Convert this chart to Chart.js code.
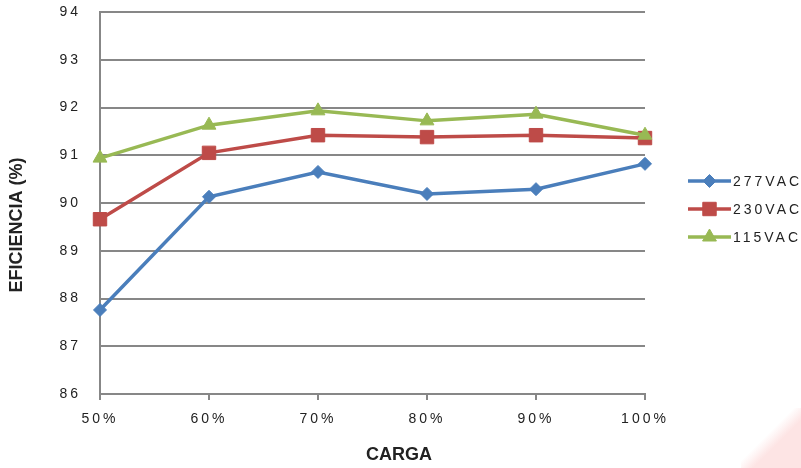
<!DOCTYPE html>
<html>
<head>
<meta charset="utf-8">
<script src="https://cdn.jsdelivr.net/npm/chart.js@4.4.1/dist/chart.umd.min.js"></script>
<style>
  html, body { margin: 0; padding: 0; background: #fff; }
  #wrap { position: relative; width: 801px; height: 468px; overflow: hidden; }
  #corner {
    position: absolute; left: 741px; top: 408px; width: 60px; height: 60px;
    background: linear-gradient(135deg, rgba(253,226,226,0) 44%, rgba(253,228,228,1) 60%);
  }
  #chart { position: absolute; left: 0; top: 0; }
</style>
</head>
<body>
<div id="wrap">
  <div id="corner"></div>
  <canvas id="chart" width="801" height="468"></canvas>
</div>
<script>
// Load levels on the x axis
const categories = ['50%', '60%', '70%', '80%', '90%', '100%'];

// Efficiency (%) per input voltage
const seriesNames = ['277VAC', '230VAC', '115VAC'];
const eff277 = [87.76, 90.13, 90.65, 90.19, 90.29, 90.82];
const eff230 = [89.66, 91.05, 91.42, 91.38, 91.42, 91.36];
const eff115 = [90.94, 91.63, 91.93, 91.72, 91.86, 91.42];

// Value axis ticks
const yTicks = [86, 87, 88, 89, 90, 91, 92, 93, 94];

const seriesColors = ['#4A7EBB', '#BE4B48', '#98B954'];
const seriesMarkers = ['rectRot', 'rect', 'triangle'];
const markerRadius = [6.5, 9.5, 8];
const seriesValues = [eff277, eff230, eff115];

const FONT = "'Liberation Sans', Arial, sans-serif";
const GRID = '#878787';
const TEXT = '#222222';

const datasets = seriesNames.map((name, i) => ({
  label: name,
  data: seriesValues[i],
  borderColor: seriesColors[i],
  backgroundColor: seriesColors[i],
  borderWidth: 3.5,
  tension: 0,
  pointStyle: seriesMarkers[i],
  pointRadius: markerRadius[i],
  pointHoverRadius: markerRadius[i],
  pointBorderWidth: 1,
  pointBorderColor: seriesColors[i],
  pointBackgroundColor: seriesColors[i],
  order: seriesNames.length - 1 - i
}));

// Wide letter spacing for tick and legend text
const spacingPlugin = {
  id: 'spacing',
  beforeLayout(chart) { chart.ctx.letterSpacing = '3px'; },
  beforeDraw(chart) { chart.ctx.letterSpacing = '3px'; }
};

// Axis titles and the legend at the right
const decorPlugin = {
  id: 'decor',
  afterDraw(chart) {
    const ctx = chart.ctx;
    ctx.save();
    ctx.letterSpacing = '0px';
    ctx.fillStyle = TEXT;
    ctx.font = "bold 18px " + FONT;
    ctx.textAlign = 'center';
    ctx.textBaseline = 'middle';
    ctx.fillText('CARGA', 399, 455);
    ctx.translate(17, 225);
    ctx.rotate(-Math.PI / 2);
    ctx.fillText('EFICIENCIA (%)', 0, 0);
    ctx.restore();

    const legendY = [181, 209, 237];
    chart.data.datasets.forEach((ds, i) => {
      const y = legendY[i];
      ctx.save();
      ctx.strokeStyle = ds.borderColor;
      ctx.fillStyle = ds.borderColor;
      ctx.lineWidth = 3.5;
      ctx.beginPath();
      ctx.moveTo(688, y);
      ctx.lineTo(731, y);
      ctx.stroke();
      ctx.lineWidth = 1;
      if (Chart.helpers && Chart.helpers.drawPoint) {
        Chart.helpers.drawPoint(ctx, {
          pointStyle: ds.pointStyle, radius: ds.pointRadius, rotation: 0, borderWidth: 1
        }, 709.5, y);
      }
      ctx.letterSpacing = '3px';
      ctx.fillStyle = TEXT;
      ctx.font = "14px " + FONT;
      ctx.textAlign = 'left';
      ctx.textBaseline = 'middle';
      ctx.fillText(ds.label, 733, y + 1);
      ctx.restore();
    });
  }
};

new Chart(document.getElementById('chart'), {
  type: 'line',
  data: { labels: categories, datasets },
  options: {
    responsive: false,
    animation: false,
    layout: { padding: { top: 12, right: 156, left: 0, bottom: 0 } },
    plugins: { legend: { display: false }, tooltip: { enabled: false }, title: { display: false } },
    scales: {
      x: {
        type: 'category',
        offset: false,
        grid: { display: true, drawOnChartArea: false, drawTicks: true, tickLength: 6, color: GRID, lineWidth: 2 },
        border: { display: true, color: GRID, width: 2 },
        ticks: { color: TEXT, font: { family: FONT, size: 14 }, padding: 11, maxRotation: 0, autoSkip: false },
        afterFit(scale) { scale.height = 74; scale.paddingLeft = 0; scale.paddingRight = 0; }
      },
      y: {
        min: yTicks[0],
        max: yTicks[yTicks.length - 1],
        afterBuildTicks(scale) { scale.ticks = yTicks.map(v => ({ value: v })); },
        grid: { color: GRID, lineWidth: 2, drawTicks: false },
        border: { display: true, color: GRID, width: 2 },
        ticks: { color: TEXT, font: { family: FONT, size: 14 }, padding: 19 },
        afterFit(scale) { scale.width = 100; scale.paddingTop = 0; scale.paddingBottom = 0; }
      }
    }
  },
  plugins: [spacingPlugin, decorPlugin]
});
</script>
</body>
</html>
